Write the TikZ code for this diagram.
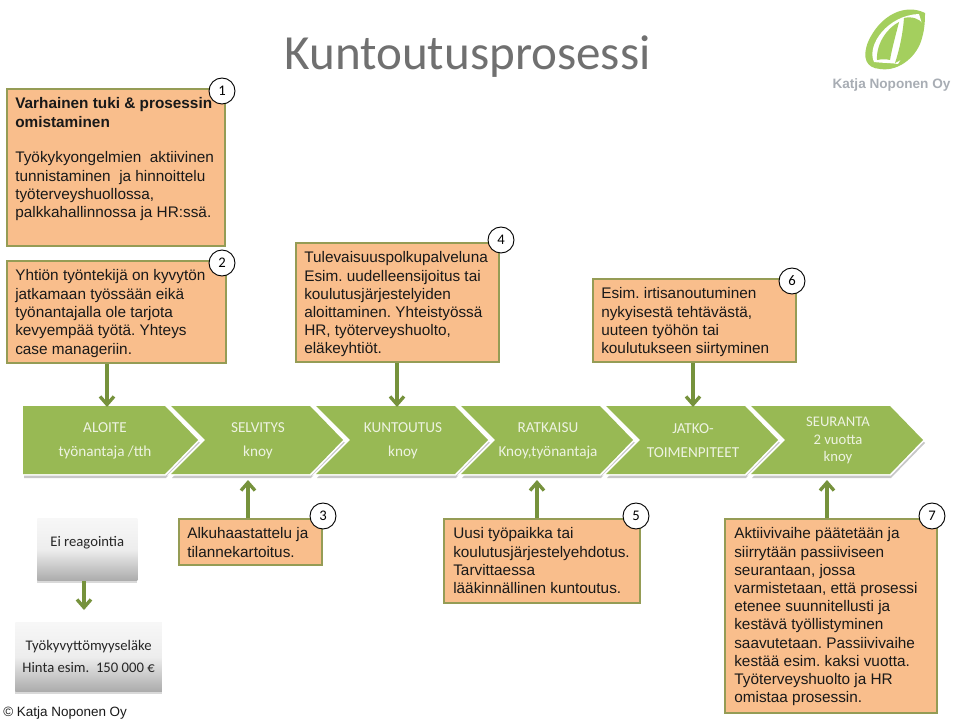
\documentclass[tikz,border=0pt]{standalone}
\usepackage{fontspec}
\setmainfont{Liberation Sans}
\newfontfamily\calib{Carlito}
\usetikzlibrary{arrows.meta,shadows,positioning}
\frenchspacing
\definecolor{boxfill}{HTML}{F9BE8C}
\definecolor{boxline}{HTML}{959C55}
\definecolor{chevgreen}{HTML}{98B954}
\definecolor{arrgreen}{HTML}{76923C}
\definecolor{chevtext}{HTML}{EEF3E2}
\definecolor{titlegray}{HTML}{707070}
\definecolor{logogreen}{HTML}{A4CF5E}
\definecolor{logogray}{HTML}{A8ADB4}
\newlength\pxu \setlength\pxu{0.75pt}
% w, h, top pad, line skip, text; optional left pad
\newcommand\btext[6][8.5]{\begin{minipage}[c][#3\pxu][t]{#2\pxu}\frenchspacing\leftskip=#1\pxu\fontsize{11.5pt}{#5\pxu}\selectfont\vspace*{#4\pxu}\noindent #6\end{minipage}}
\tikzset{
  obox/.style={draw=boxline,fill=boxfill,line width=1.2pt,inner sep=0pt,anchor=north west,text=black!90},
  num/.style={circle,draw=black,fill=white,line width=0.7pt,minimum size=19.5pt,inner sep=0pt,font=\calib\fontsize{11pt}{12pt}\selectfont},
  chevlabel/.style={text=chevtext,align=center,inner sep=0pt,font=\calib\fontsize{11.4pt}{18pt}\selectfont},
  arr/.style={draw=arrgreen,line width=2.5pt,-{Straight Barb[length=6pt,width=10.5pt,line width=2.5pt]}},
  greybox/.style={anchor=north west,inner sep=0pt,top color=white!97!black,bottom color=black!33,middle color=black!7,
    drop shadow={shadow xshift=0pt,shadow yshift=-1.5pt,opacity=.3},align=center,
    font=\calib\fontsize{11pt}{16.5pt}\selectfont,text=black!85},
}
\begin{document}
\begin{tikzpicture}[x=0.75pt,y=-0.75pt]
\useasboundingbox (0,0) rectangle (960,720);
% chevrons
\fill[black!22] (24,409) -- (166,409) -- (200,443) -- (166,478) -- (24,478) -- cycle;
\filldraw[white,line width=2.5pt] (23,406) -- (165,406) -- (198,440) -- (165,474) -- (23,474) -- cycle;
\foreach \i in {0,1,2,3,4}{
  \begin{scope}[xshift=\i*145*0.75pt]
  \fill[black!22] (172,409) -- (311,409) -- (345,443) -- (311,478) -- (172,478) -- (206,443) -- cycle;
  \end{scope}}
\foreach \i in {0,1,2,3,4}{
  \begin{scope}[xshift=\i*145*0.75pt]
  \filldraw[white,line width=2.5pt] (171,406) -- (310,406) -- (343,440) -- (310,474) -- (171,474) -- (205,440) -- cycle;
  \end{scope}}
\fill[chevgreen] (23,406) -- (165,406) -- (198,440) -- (165,474) -- (23,474) -- cycle;
\foreach \i in {0,1,2,3,4}{
  \begin{scope}[xshift=\i*145*0.75pt]
  \fill[chevgreen] (171,406) -- (310,406) -- (343,440) -- (310,474) -- (171,474) -- (205,440) -- cycle;
  \end{scope}}
\node[chevlabel] (ch1) at (105,441) {ALOITE\\työnantaja /tth};
\node[chevlabel] (ch2) at (258,441) {SELVITYS\\knoy};
\node[chevlabel] (ch3) at (403,441) {KUNTOUTUS\\knoy};
\node[chevlabel] (ch4) at (548,441) {RATKAISU\\Knoy,työnantaja};
\node[chevlabel] (ch5) at (693,441) {JATKO-\\TOIMENPITEET};
\node[chevlabel,font=\calib\fontsize{11pt}{12.9pt}\selectfont] (ch6) at (838,440.5) {SEURANTA\\2 vuotta\\knoy};
% title and logo
\node[text=titlegray,inner sep=0pt,font=\calib\fontsize{36.8pt}{40pt}\selectfont] (title) at (467.5,57) {Kuntoutusprosessi};
\fill[logogreen] (925,13) .. controls (905,3) and (880,15) .. (868,42) .. controls (862,58) and (866,68) .. (880,69) .. controls (900,72) and (918,55) .. (922,38) .. controls (925,28) and (925,18) .. (925,13) -- cycle;
\fill[white] (874,62) .. controls (866,45) and (888,15) .. (919,14) -- (922,24) -- (898,64) .. controls (892,63) and (882,63) .. (874,62) -- cycle;
\fill[logogreen] (904,18) .. controls (912,16) and (920,19) .. (923,24) .. controls (924,38) and (912,55) .. (895,63) .. controls (900,48) and (903,32) .. (904,18) -- cycle;
\fill[logogreen] (899,22) .. controls (887,28) and (876,44) .. (877,60) .. controls (882,59) and (886,59) .. (890,60) .. controls (892,48) and (896,34) .. (899,22) -- cycle;
\node[text=logogray,inner sep=0pt,font=\bfseries\fontsize{10.2pt}{12pt}\selectfont] (logotext) at (891.5,85) {Katja Noponen Oy};
% orange boxes
\node[obox] (b1) at (6,88) {\btext{218}{157}{9}{18.4}{\textbf{Varhainen tuki \& prosessin}\\\textbf{omistaminen}\\[17\pxu]Työkykyongelmien~~aktiivinen\\tunnistaminen~~ja hinnoittelu\\työterveyshuollossa,\\palkkahallinnossa ja HR:ssä.}};
\node[obox] (b2) at (6,260) {\btext{219}{102}{9}{18.3}{Yhtiön työntekijä on kyvytön\\jatkamaan työssään eikä\\työnantajalla ole tarjota\\kevyempää työtä. Yhteys\\case manageriin.}};
\node[obox] (b4) at (295,242) {\btext{203}{119}{9}{18.2}{Tulevaisuuspolkupalveluna\\Esim. uudelleensijoitus tai\\koulutusjärjestelyiden\\aloittaminen. Yhteistyössä\\HR, työterveyshuolto,\\eläkeyhtiöt.}};
\node[obox] (b6) at (592,278) {\btext{203}{83}{9}{18.1}{Esim. irtisanoutuminen\\nykyisestä tehtävästä,\\uuteen työhön tai\\koulutukseen siirtyminen}};
\node[obox] (b3) at (178,518) {\btext{143}{46}{9}{18.5}{Alkuhaastattelu ja\\tilannekartoitus.}};
\node[obox] (b5) at (443,518) {\btext[9.5]{196}{84}{9}{18.1}{Uusi työpaikka tai\\koulutusjärjestelyehdotus.\\Tarvittaessa\\lääkinnällinen kuntoutus.}};
\node[obox] (b7) at (724,518) {\btext[9.5]{212}{194}{9}{18.2}{Aktiivivaihe päätetään ja\\siirrytään passiiviseen\\seurantaan, jossa\\varmistetaan, että prosessi\\etenee suunnitellusti ja\\kestävä työllistyminen\\saavutetaan. Passiivivaihe\\kestää esim. kaksi vuotta.\\Työterveyshuolto ja HR\\omistaa prosessin.}};
% grey boxes
\node[greybox,minimum width=75pt,minimum height=47pt] (ei) at (37,518) {Ei reagointia\\[-4.5pt]\mbox{}};
\node[greybox,minimum width=110pt,minimum height=52pt] (tk) at (15,622) {Työkyvyttömyyseläke\\Hinta esim.~~150 000 €};
% arrow end points
\coordinate (a1) at (107,407);
\coordinate (a2) at (397,407);
\coordinate (a3) at (693,407);
\coordinate (a4) at (248,480);
\coordinate (a5) at (537,480);
\coordinate (a6) at (827,480);
\coordinate (a7) at (84,610);
\draw[arr] (b2.south -| a1) -- (a1);
\draw[arr] (b4.south -| a2) -- (a2);
\draw[arr] (b6.south -| a3) -- (a3);
\draw[arr] (b3.north -| a4) -- (a4);
\draw[arr] (b5.north -| a5) -- (a5);
\draw[arr] (b7.north -| a6) -- (a6);
\draw[arr] (ei.south -| a7) -- (a7);
% numbers
\node[num] (n1) at (222,91) {1};
\node[num] (n2) at (222,263) {2};
\node[num] (n4) at (501,240) {4};
\node[num] (n6) at (792,281) {6};
\node[num] (n3) at (323,516) {3};
\node[num] (n5) at (636,516) {5};
\node[num] (n7) at (932,516) {7};
\node[anchor=south west,inner sep=0pt,text=black!90,font=\fontsize{10.1pt}{12pt}\selectfont] (copy) at (3,720) {© Katja Noponen Oy};
\end{tikzpicture}
\end{document}
